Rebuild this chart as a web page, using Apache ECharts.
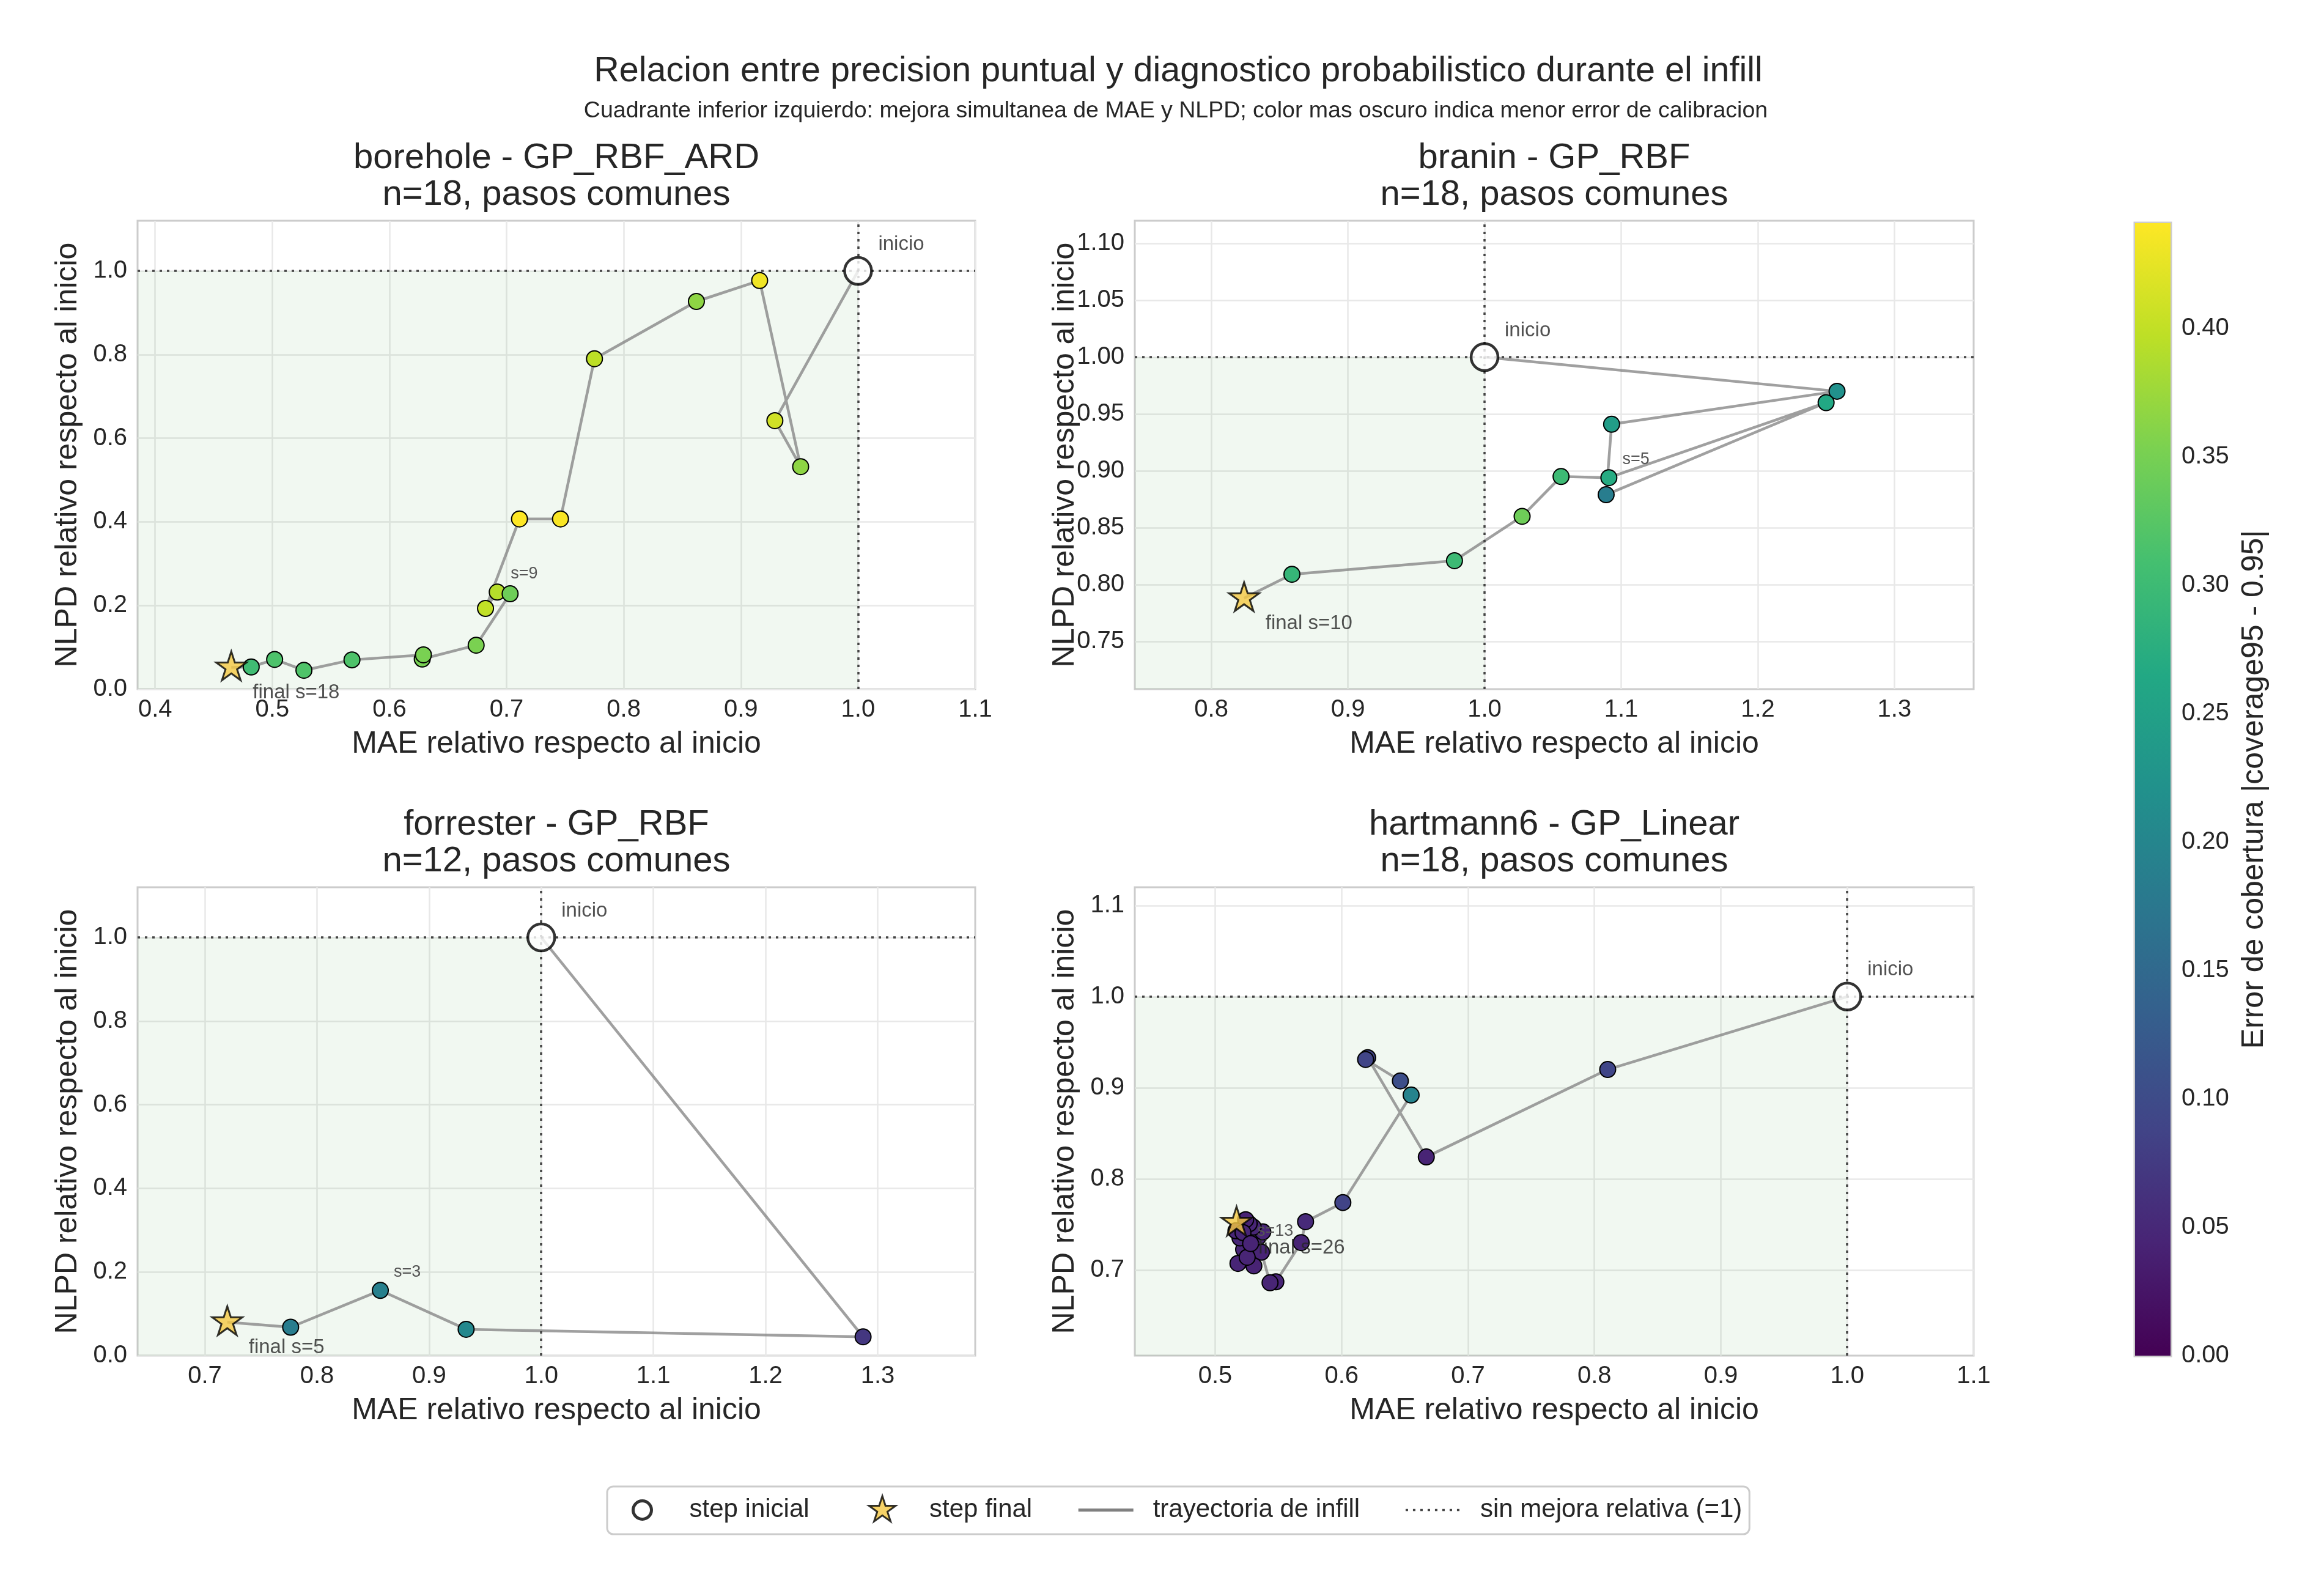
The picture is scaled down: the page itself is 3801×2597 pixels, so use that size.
<!DOCTYPE html>
<html><head><meta charset="utf-8">
<script src="https://cdn.jsdelivr.net/npm/echarts@6/dist/echarts.min.js"></script>
<style>html,body{margin:0;padding:0;background:#fff}#c{width:3801px;height:2597px}</style>
</head><body><div id="c"></div>
<script>
// ---------------- data ----------------
const mainTitle = 'Relacion entre precision puntual y diagnostico probabilistico durante el infill';
const subTitle = 'Cuadrante inferior izquierdo: mejora simultanea de MAE y NLPD; color mas oscuro indica menor error de calibracion';
const panelNames = ['borehole - GP_RBF_ARD', 'branin - GP_RBF', 'forrester - GP_RBF', 'hartmann6 - GP_Linear'];
const panelN = [18, 18, 12, 18];
const midStep = [9, 5, 3, 13];
const refValue = 1;

const boreholeMAE  = [1.000, 0.929, 0.951, 0.916, 0.862, 0.775, 0.746, 0.711, 0.682, 0.692, 0.703, 0.674, 0.628, 0.629, 0.568, 0.527, 0.502, 0.482, 0.465];
const boreholeNLPD = [1.000, 0.642, 0.532, 0.977, 0.927, 0.790, 0.407, 0.407, 0.193, 0.232, 0.228, 0.105, 0.072, 0.082, 0.070, 0.045, 0.071, 0.053, 0.052];
const boreholeErr  = [null, 0.410, 0.366, 0.432, 0.366, 0.397, 0.438, 0.441, 0.400, 0.392, 0.343, 0.353, 0.350, 0.352, 0.317, 0.318, 0.316, 0.303, null];

const braninMAE  = [1.000, 1.258, 1.093, 1.089, 1.250, 1.091, 1.056, 1.0275, 0.978, 0.859, 0.824];
const braninNLPD = [1.000, 0.970, 0.941, 0.879, 0.960, 0.894, 0.895, 0.860, 0.821, 0.809, 0.788];
const braninErr  = [null, 0.220, 0.243, 0.185, 0.265, 0.270, 0.300, 0.343, 0.300, 0.290, null];

const forresterMAE  = [1.000, 1.287, 0.933, 0.8565, 0.7765, 0.720];
const forresterNLPD = [1.000, 0.045, 0.063, 0.156, 0.068, 0.080];
const forresterErr  = [null, 0.070, 0.205, 0.190, 0.185, null];

const hartmannMAE  = [1.000, 0.8105, 0.667, 0.6206, 0.619, 0.6465, 0.655, 0.601, 0.5715, 0.568, 0.548, 0.5434, 0.5366, 0.5225, 0.5306, 0.518, 0.5253, 0.5196, 0.5341, 0.5377, 0.5301, 0.5269, 0.5241, 0.5164, 0.522, 0.528, 0.5169];
const hartmannNLPD = [1.000, 0.920, 0.824, 0.933, 0.931, 0.9075, 0.892, 0.774, 0.753, 0.730, 0.687, 0.686, 0.7195, 0.7225, 0.7045, 0.7072, 0.7139, 0.7351, 0.7363, 0.7418, 0.747, 0.7507, 0.7552, 0.743, 0.741, 0.729, 0.752];
const hartmannErr  = [null, 0.092, 0.044, 0.088, 0.090, 0.105, 0.195, 0.088, 0.053, 0.045, 0.046, 0.045, 0.044, 0.047, 0.043, 0.046, 0.045, 0.048, 0.044, 0.046, 0.047, 0.045, 0.043, 0.046, 0.045, 0.044, null];

const xTicks = [[0.4, 0.5, 0.6, 0.7, 0.8, 0.9, 1.0, 1.1], [0.8, 0.9, 1.0, 1.1, 1.2, 1.3], [0.7, 0.8, 0.9, 1.0, 1.1, 1.2, 1.3], [0.5, 0.6, 0.7, 0.8, 0.9, 1.0, 1.1]];
const yTicks = [[0.0, 0.2, 0.4, 0.6, 0.8, 1.0], [0.75, 0.80, 0.85, 0.90, 0.95, 1.00, 1.05, 1.10], [0.0, 0.2, 0.4, 0.6, 0.8, 1.0], [0.7, 0.8, 0.9, 1.0, 1.1]];
const yDecimals = [1, 2, 1, 1];
const cbTicks = [0.00, 0.05, 0.10, 0.15, 0.20, 0.25, 0.30, 0.35, 0.40];

const legendNames = ['step inicial', 'step final', 'trayectoria de infill', 'sin mejora relativa (=1)'];
const xLabel = 'MAE relativo respecto al inicio';
const yLabel = 'NLPD relativo respecto al inicio';
const cbLabel = 'Error de cobertura |coverage95 - 0.95|';

// ---------------- styling / layout ----------------
const FONT = 'Liberation Sans, Arial, sans-serif';
const TXT = '#262626';
const viridis = ['#440154', '#482475', '#414487', '#355f8d', '#2a788e', '#21918c', '#22a884', '#44bf70', '#7ad151', '#bddf26', '#fde725'];
const STAR = 'path://M0,1 M0,-1 L0.2245,-0.309 L0.9511,-0.309 L0.3633,0.118 L0.5878,0.809 L0,0.382 L-0.5878,0.809 L-0.3633,0.118 L-0.9511,-0.309 L-0.2245,-0.309 Z';
const CIRCLE_ICON = 'path://M0,0 M90,48 M45,9 A15,15 0 0 1 45,39 A15,15 0 0 1 45,9 Z';
const STAR_ICON = 'path://M0,0 M90,48 M45,1 L50.16,16.89 L66.88,16.89 L53.36,26.71 L58.52,42.61 L45,32.79 L31.48,42.61 L36.64,26.71 L23.12,16.89 L39.84,16.89 Z';
const gridBoxes = [
  {left: 225, top: 361, width: 1370, height: 766},
  {left: 1856, top: 361, width: 1372, height: 766},
  {left: 225, top: 1451, width: 1370, height: 766},
  {left: 1856, top: 1451, width: 1372, height: 766}
];
const cbBox = {left: 3492, top: 365, width: 58, height: 1852};

const panels = [
  {mae: boreholeMAE, nlpd: boreholeNLPD, err: boreholeErr},
  {mae: braninMAE, nlpd: braninNLPD, err: braninErr},
  {mae: forresterMAE, nlpd: forresterNLPD, err: forresterErr},
  {mae: hartmannMAE, nlpd: hartmannNLPD, err: hartmannErr}
];

const allErr = [].concat(boreholeErr, braninErr, forresterErr, hartmannErr).filter(v => v != null);
const vmax = Math.max.apply(null, allErr);

const grids = [], xAxes = [], yAxes = [], series = [], titles = [], scatterIdx = [];

titles.push({text: mainTitle, left: 1922, top: 83, textAlign: 'center',
  textStyle: {fontFamily: FONT, fontSize: 57.5, fontWeight: 'normal', color: TXT}});
titles.push({text: subTitle, left: 1918, top: 158, textAlign: 'center',
  textStyle: {fontFamily: FONT, fontSize: 37.5, fontWeight: 'normal', color: TXT}});

panels.forEach((p, i) => {
  const g = gridBoxes[i];
  const N = p.mae.length - 1;
  const xMin = Math.min.apply(null, p.mae) - 0.08;
  const xMax = Math.max.apply(null, p.mae) + 0.1;
  const yMin = Math.max(0, Math.min.apply(null, p.nlpd) - 0.08);
  const yMax = Math.max.apply(null, p.nlpd) + 0.12;

  grids.push(Object.assign({show: true, borderColor: '#cccccc', borderWidth: 3, backgroundColor: 'transparent', containLabel: false}, g));
  titles.push({text: panelNames[i] + '\nn=' + panelN[i] + ', pasos comunes', left: g.left + g.width / 2 - 5, top: g.top - 137, textAlign: 'center',
    textStyle: {fontFamily: FONT, fontSize: 58, lineHeight: 60, fontWeight: 'normal', color: TXT}});

  xAxes.push({gridIndex: i, type: 'value', min: xMin, max: xMax,
    axisLine: {show: false}, axisTick: {show: false, customValues: xTicks[i]},
    axisLabel: {customValues: xTicks[i], formatter: v => v.toFixed(1), fontFamily: FONT, fontSize: 40, color: TXT, margin: 14},
    splitLine: {show: true, lineStyle: {color: '#e8e8e8', width: 2.5}},
    name: xLabel, nameLocation: 'middle', nameGap: 65, nameMoveOverlap: false,
    nameTextStyle: {fontFamily: FONT, fontSize: 50, color: TXT}});
  yAxes.push({gridIndex: i, type: 'value', min: yMin, max: yMax,
    axisLine: {show: false}, axisTick: {show: false, customValues: yTicks[i]},
    axisLabel: {customValues: yTicks[i], formatter: v => v.toFixed(yDecimals[i]), fontFamily: FONT, fontSize: 40, color: TXT, margin: 17},
    splitLine: {show: true, lineStyle: {color: '#e8e8e8', width: 2.5}},
    name: yLabel, nameLocation: 'middle', nameGap: 89, nameMoveOverlap: false,
    nameTextStyle: {fontFamily: FONT, fontSize: 50, color: TXT}});

  const path = p.mae.map((x, k) => [x, p.nlpd[k]]);
  // trajectory
  series.push({type: 'line', name: legendNames[2], xAxisIndex: i, yAxisIndex: i, data: path,
    symbol: 'none', silent: true, z: 2,
    lineStyle: {color: 'rgba(128,128,128,0.75)', width: 4.5},
    markArea: {silent: true, itemStyle: {color: 'rgba(0,128,0,0.055)'},
      data: [[{coord: [xMin, yMin]}, {coord: [refValue, refValue]}]]}});
  // reference lines
  series.push({type: 'line', name: legendNames[3], xAxisIndex: i, yAxisIndex: i, data: [],
    symbol: 'none', silent: true, z: 2,
    lineStyle: {color: '#444', width: 3.5, type: [4, 8]},
    markLine: {silent: true, symbol: 'none', label: {show: false},
      lineStyle: {color: '#444', width: 3.5, type: [4, 8]},
      data: [{xAxis: refValue}, {yAxis: refValue}]}});
  // coloured intermediate steps
  const pts = [];
  for (let k = 1; k < N; k++) {
    const item = {value: [p.mae[k], p.nlpd[k], p.err[k]]};
    if (k === midStep[i]) {
      item.label = {show: true, formatter: 's=' + k, position: 'inside', align: 'left', verticalAlign: 'bottom',
        offset: [22, -16], fontFamily: FONT, fontSize: 27, color: '#555'};
    }
    pts.push(item);
  }
  scatterIdx.push(series.length);
  series.push({type: 'scatter', name: 'pts' + i, xAxisIndex: i, yAxisIndex: i, data: pts,
    symbol: 'circle', symbolSize: 26, silent: true, z: 3,
    itemStyle: {borderColor: '#000', borderWidth: 2, opacity: 1}});
  // start
  series.push({type: 'scatter', name: legendNames[0], xAxisIndex: i, yAxisIndex: i, silent: true, z: 5,
    symbol: 'circle', symbolSize: 44, itemStyle: {color: '#fff', borderColor: '#000', borderWidth: 4.5},
    data: [{value: [p.mae[0], p.nlpd[0]], label: {show: true, formatter: 'inicio', position: 'inside', align: 'left',
      verticalAlign: 'bottom', offset: [33, -27], fontFamily: FONT, fontSize: 33, color: TXT}}]});
  // final
  series.push({type: 'scatter', name: legendNames[1], xAxisIndex: i, yAxisIndex: i, silent: true, z: 6,
    symbol: STAR, symbolSize: 52, symbolKeepAspect: true,
    itemStyle: {color: '#f5c842', borderColor: '#000', borderWidth: 3},
    data: [{value: [p.mae[N], p.nlpd[N]], label: {show: true, formatter: 'final s=' + N, position: 'inside', align: 'left',
      verticalAlign: 'top', offset: [35, 25], fontFamily: FONT, fontSize: 33, color: TXT}}]});
});

// colour bar
grids.push(Object.assign({show: true, borderColor: '#cccccc', borderWidth: 5, containLabel: false}, cbBox));
xAxes.push({gridIndex: 4, type: 'category', data: ['cb'], show: false});
yAxes.push({gridIndex: 4, type: 'value', min: 0, max: vmax, position: 'right',
  axisLine: {show: false}, axisTick: {show: false, customValues: cbTicks}, splitLine: {show: false},
  axisLabel: {customValues: cbTicks, formatter: v => v.toFixed(2), fontFamily: FONT, fontSize: 40, color: TXT, margin: 18},
  name: cbLabel, nameLocation: 'middle', nameGap: 112, nameMoveOverlap: false,
  nameTextStyle: {fontFamily: FONT, fontSize: 50, color: TXT}});
series.push({type: 'bar', name: 'colorbar', xAxisIndex: 4, yAxisIndex: 4, data: [vmax], barWidth: '100%', silent: true,
  itemStyle: {color: new echarts.graphic.LinearGradient(0, 1, 0, 0,
    viridis.map((c, j) => ({offset: j / (viridis.length - 1), color: c})))}});

const option = {
  animation: false,
  backgroundColor: '#fff',
  textStyle: {fontFamily: FONT},
  title: titles,
  grid: grids,
  xAxis: xAxes,
  yAxis: yAxes,
  visualMap: {type: 'continuous', show: false, min: 0, max: vmax, dimension: 2, seriesIndex: scatterIdx,
    inRange: {color: viridis}},
  legend: {
    selectedMode: false, left: 993, top: 2431, orient: 'horizontal',
    padding: [12, 12, 13, 10], itemWidth: 90, itemHeight: 48, itemGap: 73,
    backgroundColor: '#fff', borderColor: '#cccccc', borderWidth: 3, borderRadius: 10,
    formatter: name => '{p|}' + name,
    textStyle: {fontFamily: FONT, fontSize: 42, color: TXT, rich: {p: {width: 27, height: 10}}},
    data: [
      {name: legendNames[0], icon: CIRCLE_ICON, itemStyle: {color: '#fff', borderColor: '#000', borderWidth: 5}},
      {name: legendNames[1], icon: STAR_ICON, itemStyle: {color: '#f5c842', borderColor: '#000', borderWidth: 3}},
      {name: legendNames[2], itemStyle: {opacity: 0}, lineStyle: {color: '#808080', width: 5, type: 'solid'}},
      {name: legendNames[3], itemStyle: {opacity: 0}, lineStyle: {color: '#444', width: 3.5, type: [4, 8]}}
    ]
  },
  series: series
};

const chart = echarts.init(document.getElementById('c'), null, {renderer: 'canvas', width: 3801, height: 2597});
chart.setOption(option);
</script>
</body></html>
